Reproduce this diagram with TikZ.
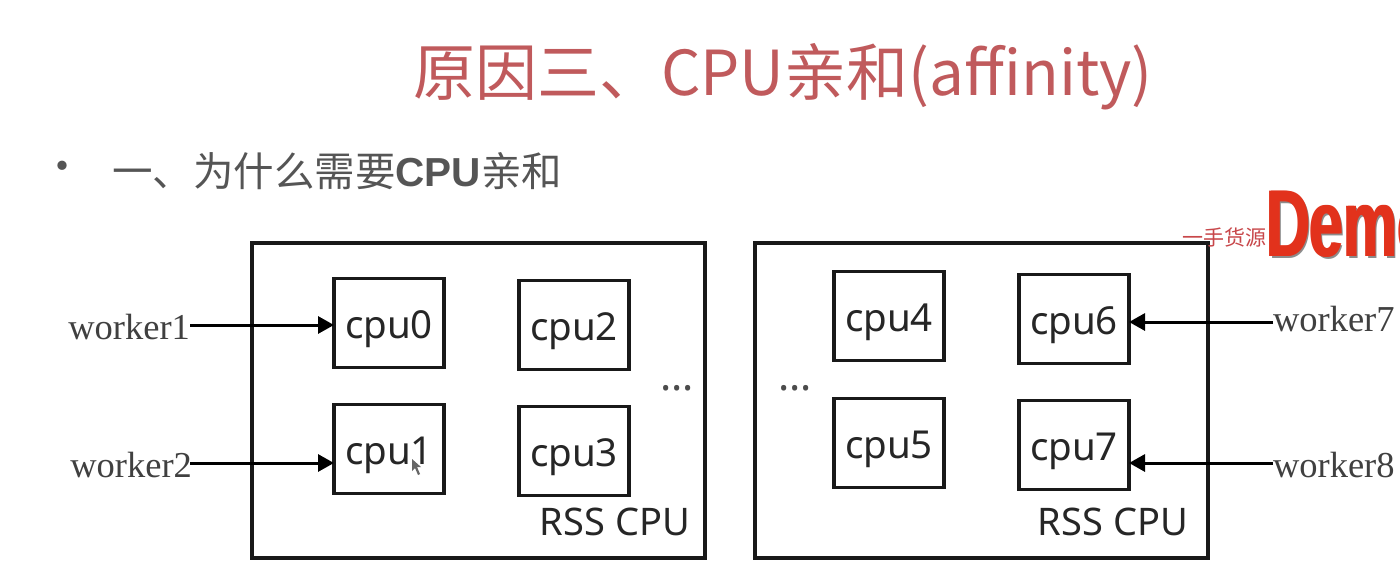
\documentclass[tikz,border=0pt]{standalone}
\usepackage{fontspec}
\setmainfont{Noto Sans}
\newfontfamily\cjkfont{Noto Sans CJK SC}
\newfontfamily\serifface{Liberation Serif}
\newfontfamily\boldface[BoldFont={Liberation Sans Bold}]{Liberation Sans}
\usetikzlibrary{arrows.meta}
\definecolor{titlered}{HTML}{C05A5C}
\definecolor{bodygray}{HTML}{555555}
\definecolor{stampred}{HTML}{E2321C}
\definecolor{stampthin}{HTML}{C8474A}
\tikzset{
  x=1pt, y=-1pt,
  every node/.style={inner sep=0pt, outer sep=0pt},
  frame/.style={draw=black!90, line width=3.2pt, fill=none},
  cpubox/.style={draw=black!90, line width=3.2pt, minimum width=110pt, minimum height=89pt,
    text height=32pt, text depth=2pt,
    font=\fontsize{38.5}{38.5}\selectfont, text=black!85},
  workerlabel/.style={font=\serifface\fontsize{36.5}{37}\selectfont, text=black!75},
  tagtext/.style={font=\fontsize{38}{38}\selectfont, text=black!85},
  dotrun/.style={text=black!70, anchor=base, font=\fontsize{42}{42}\selectfont},
  link/.style={line width=3pt, black, -{Triangle[length=16pt,width=17pt]}},
  stamptext/.style={anchor=base west, xscale=0.64, font=\boldface\bfseries\fontsize{95}{95}\selectfont},
}
\begin{document}
\begin{tikzpicture}
\useasboundingbox (0,0) rectangle (1400,570);
\clip (0,0) rectangle (1400,570);
\fill[white] (0,0) rectangle (1400,570);

% heading and bullet line
\node[anchor=base west, text=titlered, font=\cjkfont\fontsize{62}{62}\selectfont] (title) at (413,95) {原因三、CPU亲和(affinity)};
\node[text=bodygray, font=\cjkfont\fontsize{44}{44}\selectfont] (dot) at (62,172) {•};
\node[anchor=base west, text=bodygray, font=\cjkfont\fontsize{40.5}{40.5}\selectfont] (sub) at (112,186) {一、为什么需要{\boldface\bfseries CPU}亲和};

% outer groups
\node[frame, minimum width=453pt, minimum height=315pt] (left) at (478.5,400.5) {};
\node[frame, minimum width=453pt, minimum height=315pt] (right) at (981.5,400.5) {};

% processors
\node[cpubox] (cpu0) at (389,323) {cpu0};
\node[cpubox] (cpu1) at (389,449) {cpu1};
\node[cpubox] (cpu2) at (574,325) {cpu2};
\node[cpubox] (cpu3) at (574,451) {cpu3};
\node[cpubox] (cpu4) at (889,316) {cpu4};
\node[cpubox] (cpu5) at (889,443) {cpu5};
\node[cpubox] (cpu6) at (1074,319) {cpu6};
\node[cpubox] (cpu7) at (1074,445) {cpu7};

\node[tagtext, anchor=base east] (tagl) at (690,535) {RSS CPU};
\node[tagtext, anchor=base east] (tagr) at (1188,535) {RSS CPU};
\node[dotrun] (dotsl) at (677,390) {…};
\node[dotrun] (dotsr) at (795,390) {…};

% workers
\node[workerlabel, anchor=east] (w1) at (190,327) {worker1};
\node[workerlabel, anchor=east] (w2) at (192,465) {worker2};
\node[workerlabel, anchor=west] (w7) at (1273,319) {worker7};
\node[workerlabel, anchor=west] (w8) at (1273,465) {worker8};

\coordinate (a1) at (190,325);
\coordinate (a2) at (190,463);
\coordinate (a7) at (1273,322);
\coordinate (a8) at (1273,463);
\draw[link] (a1) -- (a1 -| cpu0.west);
\draw[link] (a2) -- (a2 -| cpu1.west);
\draw[link] (a7) -- (a7 -| cpu6.east);
\draw[link] (a8) -- (a8 -| cpu7.east);

% mouse pointer resting on cpu1
\fill[black!60] (412,459) -- (412,471) -- (415,468) -- (418,475) -- (420,474) -- (417,467) -- (421,467) -- cycle;

% stamp in the upper right corner
\node[anchor=base west, text=stampthin, font=\cjkfont\fontsize{21}{21}\selectfont] (mark) at (1182,245) {一手货源};
\node[stamptext, text=black!45] (stampshade) at (1268,258) {Demo};
\node[stamptext, text=stampred] (stampa) at (1265,256) {Demo};
\node[stamptext, text=stampred] (stampb) at (1267,256) {Demo};
\end{tikzpicture}
\end{document}
